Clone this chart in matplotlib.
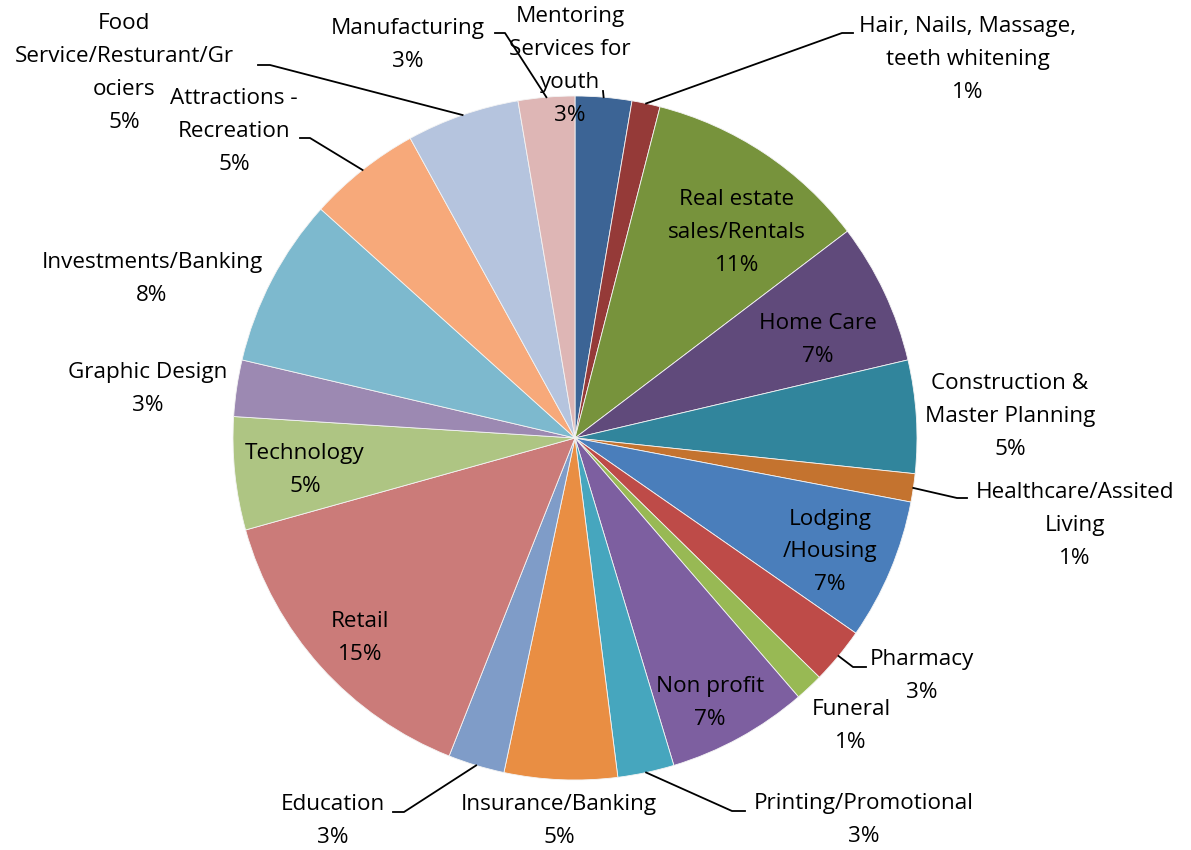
import numpy as np
import matplotlib
matplotlib.use("Agg")
import matplotlib.pyplot as plt

plt.rcParams['font.family'] = ['Open Sans', 'DejaVu Sans']

# business categories, clockwise from 12 o'clock (counts)
categories = ["Mentoring\nServices for\nyouth", "Hair, Nails, Massage,\nteeth whitening",
              "Real estate\nsales/Rentals", "Home Care", "Construction &\nMaster Planning",
              "Healthcare/Assited\nLiving", "Lodging\n/Housing", "Pharmacy", "Funeral",
              "Non profit", "Printing/Promotional", "Insurance/Banking", "Education",
              "Retail", "Technology", "Graphic Design", "Investments/Banking",
              "Attractions -\nRecreation", "Food\nService/Resturant/Gr\nociers", "Manufacturing"]
counts = [2, 1, 8, 5, 4, 1, 5, 2, 1, 5, 2, 4, 2, 11, 4, 2, 6, 4, 4, 2]

colors = ["#3C6495", "#953A38", "#77933C", "#604A7B", "#31859C", "#C4732F",
          "#4A7EBB", "#BE4B48", "#98B954", "#7D5FA0", "#46A6BE", "#E98E43",
          "#7F9CC8", "#CB7B79", "#AEC583", "#9C89B2", "#7DB9CE", "#F7A97A",
          "#B5C4DE", "#DEB6B5"]

W, H = 1191, 850
cx, cy, R = 575, 438, 342

# label centres in pixels (from top-left) and leader elbows
label_pos = [(570, 66), (968, 59), (737, 232), (818, 340), (1010, 416),
             (1075, 525), (830, 552), (922, 676), (851, 726), (710, 703),
             (864, 820), (559, 821), (333, 821), (360, 638), (305, 470),
             (148, 389), (152, 279), (234, 131), (124, 73), (408, 45)]
leaders = {0: [(603, 91)], 1: [(853, 33), (842, 33)], 5: [(967, 498), (957, 498)],
           7: [(866, 667), (853, 667)], 10: [(745, 811), (732, 811)],
           12: [(393, 812), (404, 812)], 17: [(300, 138), (310, 138)],
           18: [(258, 65), (270, 65)], 19: [(495, 33), (505, 33)]}


def py(y):
    return H - y


fig = plt.figure(figsize=(W / 100, H / 100), dpi=100)
ax = fig.add_axes([0, 0, 1, 1])

wedges, _ = ax.pie(counts, colors=colors, startangle=90, counterclock=False,
                   center=(cx, py(cy)), radius=R,
                   wedgeprops=dict(edgecolor='#f4f4f4', linewidth=0.6))
ax.set_xlim(0, W)
ax.set_ylim(0, H)
ax.set_aspect('equal')
ax.axis('off')

total = sum(counts)
for i, w in enumerate(wedges):
    pct = round(counts[i] / total * 100)
    x, y = label_pos[i]
    ax.text(x, py(y), "%s\n%d%%" % (categories[i], pct), ha='center', va='center',
            fontsize=16.2, linespacing=1.75, color='black')
    if i in leaders:
        ang = np.deg2rad((w.theta1 + w.theta2) / 2)
        ex = cx + R * np.cos(ang)
        ey = py(cy) + R * np.sin(ang)
        pts = leaders[i]
        xs = [p[0] for p in pts] + [ex]
        ys = [py(p[1]) for p in pts] + [ey]
        ax.plot(xs, ys, color='black', linewidth=1.3)

fig.savefig("out.png", dpi=100, facecolor='white')
